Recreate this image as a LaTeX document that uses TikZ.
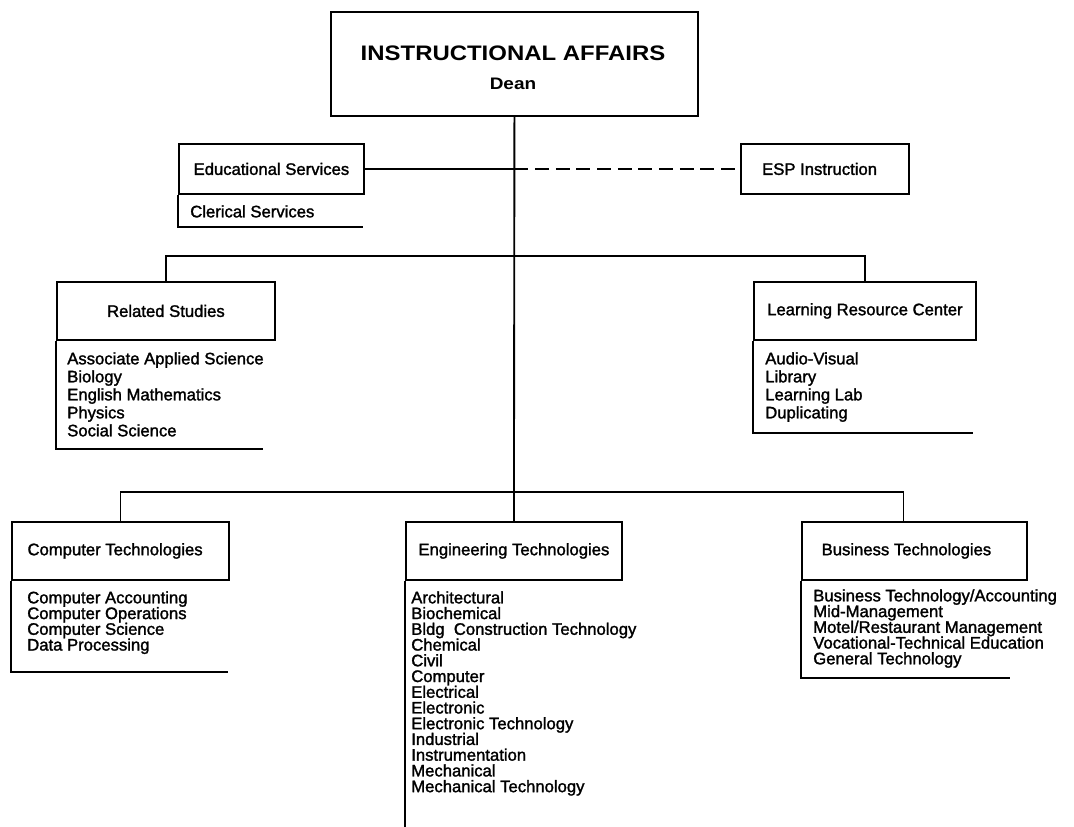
\documentclass[tikz,border=0pt]{standalone}
\usepackage{fontspec}
\setmainfont{Liberation Sans}[FakeBold=1.6]
\newfontfamily\titlefont{Liberation Sans}[FakeStretch=1.14]
\usetikzlibrary{calc}

\begin{document}
\begin{tikzpicture}[x=0.75pt, y=-0.75pt,
  unit/.style 2 args={draw, line width=1.4pt, anchor=north west, inner sep=0pt,
    minimum width=#1*0.75pt, minimum height=#2*0.75pt,
    font=\fontsize{12.5}{14}\selectfont},
  items/.style={anchor=north west, inner sep=0pt, align=left},
  midlist/.style={items, font=\fontsize{12.5}{13.5}\selectfont},
  lowlist/.style={items, font=\fontsize{12.5}{11.8}\selectfont},
  link/.style={line width=1.4pt},
  staff/.style={line width=1.4pt, dash pattern=on 10.5pt off 5pt},
  bracket/.style={line width=1.4pt}
]
\path[use as bounding box] (0,0) rectangle (1074,827);

% --- dean's office -------------------------------------------------
\node[unit={367}{104}] (top) at (330,11) {};
\node[anchor=base, inner sep=0pt, font=\titlefont\bfseries\fontsize{15.75}{18}\selectfont]
  (titletext) at (513,60.5) {INSTRUCTIONAL AFFAIRS};
\node[anchor=base, inner sep=0pt, font=\titlefont\bfseries\fontsize{12.5}{14}\selectfont]
  (deantext) at (513,90) {Dean};

% --- staff units --------------------------------------------------
\node[unit={185}{50}] (edu) at (178,143) {Educational Services};
\node[items, font=\fontsize{12.5}{14}\selectfont] (cler) at (190,205) {Clerical Services};
\coordinate (cler-end) at (363,227);

\node[unit={168}{50}] (esp) at (740,143) {ESP Instruction\hspace*{8pt}};

% --- second level -------------------------------------------------
\node[unit={218}{58}] (rel) at (56,281) {Related Studies};
\node[midlist] (rel-list) at (67,352) {Associate Applied Science\\Biology\\English Mathematics\\Physics\\Social Science};
\coordinate (rel-end) at (263,449);

\node[unit={222}{58}] (lrc) at (753,281) {Learning Resource Center};
\node[midlist] (lrc-list) at (765,352) {Audio-Visual\\Library\\Learning Lab\\Duplicating};
\coordinate (lrc-end) at (973,433);

% --- third level --------------------------------------------------
\node[unit={217}{58}] (comp) at (11,521) {Computer Technologies\hspace*{8pt}};
\node[lowlist] (comp-list) at (27,591) {Computer Accounting\\Computer Operations\\Computer Science\\Data Processing};
\coordinate (comp-end) at (228,672);

\node[unit={216}{58}] (eng) at (405,521) {Engineering Technologies};
\node[lowlist] (eng-list) at (411,591) {Architectural\\Biochemical\\Bldg\ \ Construction Technology\\Chemical\\Civil\\Computer\\Electrical\\Electronic\\Electronic Technology\\Industrial\\Instrumentation\\Mechanical\\Mechanical Technology};
\coordinate (eng-end) at (405,827);

\node[unit={225}{58}] (bus) at (801,521) {Business Technologies\hspace*{12pt}};
\node[lowlist] (bus-list) at (813,589) {Business Technology/Accounting\\Mid-Management\\Motel/Restaurant Management\\Vocational-Technical Education\\General Technology};
\coordinate (bus-end) at (1010,678);

% --- lines of authority -------------------------------------------
\draw[link] (top.south) -- (eng.north);
\draw[link] (edu.east) -- (edu.east -| top.south) coordinate (j1);
\draw[staff] (j1) -- (esp.west);
\coordinate (j2) at (top.south |- 0,256);
\draw[link] (rel.north) |- (j2) -| (lrc.north);
\coordinate (j3) at (top.south |- 0,492);
\draw[link] (comp.north) |- (j3) -| ($(bus.north)+(-11,0)$);

% --- list brackets ------------------------------------------------
\draw[bracket] (edu.south west) |- (cler-end);
\draw[bracket] (rel.south west) |- (rel-end);
\draw[bracket] (lrc.south west) |- (lrc-end);
\draw[bracket] (comp.south west) |- (comp-end);
\draw[bracket] (eng.south west) -- (eng-end);
\draw[bracket] (bus.south west) |- (bus-end);
\end{tikzpicture}
\end{document}
